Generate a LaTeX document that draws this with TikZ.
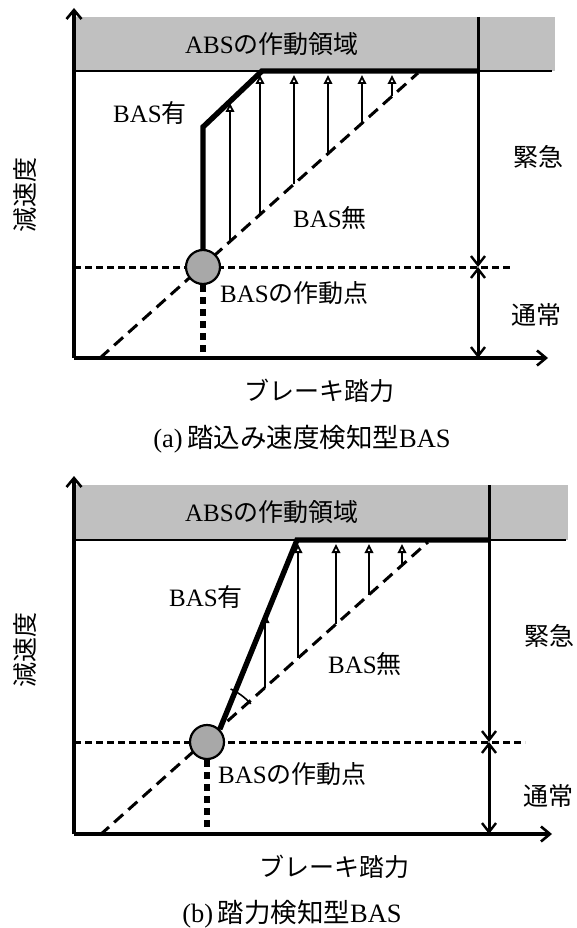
\documentclass[tikz,border=0pt]{standalone}
\usepackage{fontspec}
\setmainfont{Liberation Serif}
\newfontfamily\jpfont{Noto Sans CJK JP}
\newcommand{\J}[1]{{\jpfont #1}}
\usetikzlibrary{arrows.meta,calc}
\definecolor{bandgray}{RGB}{192,192,192}
\definecolor{dotgray}{RGB}{168,168,168}
\begin{document}
\begin{tikzpicture}[x=1pt,y=-1pt,
  txt/.style={inner sep=0pt, font=\fontsize{25}{28}\selectfont},
  captxt/.style={inner sep=0pt, font=\fontsize{26.5}{30}\selectfont},
  axis/.style={line width=3.3pt, -{Straight Barb[length=9pt,width=15pt,line width=2.6pt]}},
  vline/.style={line width=3pt, -{Straight Barb[length=9pt,width=14pt,line width=2.4pt]}},
  dvline/.style={line width=3pt, {Straight Barb[length=9pt,width=14pt,line width=2.4pt]}-{Straight Barb[length=9pt,width=14pt,line width=2.4pt]}},
  hdash/.style={line width=3pt, dash pattern=on 7pt off 4pt},
  ddash/.style={line width=3pt, dash pattern=on 12pt off 7pt},
  boldpath/.style={line width=5.4pt, line join=miter},
  uparrow/.style={line width=2.9pt, -{Triangle[open,length=9pt,width=8.5pt,line width=1.8pt]}},
  dotline/.style={line width=6.5pt, dash pattern=on 7pt off 5pt},
  point/.style={circle, draw, line width=2.2pt, fill=dotgray, minimum size=34pt, inner sep=0pt},
]
\useasboundingbox (0,0) rectangle (577,928);

%%%%%%%%%%%%%%%% Panel (a)
\fill[bandgray] (74,17) rectangle (555,71);
\coordinate (aBL) at (74,71);
\coordinate (aBR) at (552,71);
\draw[line width=1.8pt] (aBL) -- (aBR);
\node[txt] (aABS) at (272,44) {ABS\J{の作動領域}};

\coordinate (aO) at (74,358);
\coordinate (aYT) at (74,8);
\coordinate (aXR) at (548,358);
\draw[axis] (aO) -- (aYT);
\draw[axis] (aO) -- (aXR);

\coordinate (aVT) at (478,17);
\coordinate (aVM) at (478,267);
\coordinate (aVB) at (478,358);
\draw[vline] (aVT) -- (aVM);
\draw[dvline] (aVM) -- (aVB);

\coordinate (aHL) at (74,267);
\coordinate (aHR) at (512,267);
\draw[hdash] (aHL) -- (aHR);

\coordinate (aD0) at (100,358);
\coordinate (aD1) at (418,73);
\draw[ddash] (aD0) -- (aD1);

\foreach \x/\yb/\yt in {230/241.5/103, 260/214.6/75, 294/184.1/75, 328/153.7/75, 362/123.2/75, 392/96.3/75}{
  \draw[uparrow] (\x,\yb) -- (\x,\yt);
}

\node[point] (aP) at (203,267) {};
\coordinate (aK1) at (203,127);
\coordinate (aK2) at (262,71);
\coordinate (aK3) at (478,71);
\draw[boldpath] (aP.north) -- (aK1) -- (aK2) -- (aK3);
\coordinate (aPB) at (203,358);
\draw[dotline] (aP.south) -- (aPB);

\node[txt] (aYes) at (150,113) {BAS\J{有}};
\node[txt] (aNo) at (330,218) {BAS\J{無}};
\node[txt, anchor=west] (aPt) at (220,293) {BAS\J{の作動点}};
\node[txt] (aX) at (319,391) {\J{ブレーキ踏力}};
\node[txt] (aY) at (25,195) [rotate=90] {\J{減速度}};
\node[txt] (aEm) at (538,157) {\J{緊急}};
\node[txt] (aNr) at (536,315) {\J{通常}};
\node[captxt] (aCap) at (302,439) {(a)\,\J{踏込み速度検知型}BAS};

%%%%%%%%%%%%%%%% Panel (b)
\fill[bandgray] (74,485) rectangle (568,540);
\coordinate (bBL) at (74,540);
\coordinate (bBR) at (566,540);
\draw[line width=1.8pt] (bBL) -- (bBR);
\node[txt] (bABS) at (272,512) {ABS\J{の作動領域}};

\coordinate (bO) at (74,834);
\coordinate (bYT) at (74,476);
\coordinate (bXR) at (552,834);
\draw[axis] (bO) -- (bYT);
\draw[axis] (bO) -- (bXR);

\coordinate (bVT) at (489,485);
\coordinate (bVM) at (489,742);
\coordinate (bVB) at (489,834);
\draw[vline] (bVT) -- (bVM);
\draw[dvline] (bVM) -- (bVB);

\coordinate (bHL) at (74,742);
\coordinate (bHR) at (525,742);
\draw[hdash] (bHL) -- (bHR);

\coordinate (bD0) at (100,835);
\coordinate (bD1) at (428,542);
\draw[ddash] (bD0) -- (bD1);

\foreach \x/\yb/\yt in {265/687.6/614, 298/658.1/544, 336/624.2/544, 369/594.7/544, 402/565.2/544}{
  \draw[uparrow] (\x,\yb) -- (\x,\yt);
}

\node[point] (bP) at (207,742) {};
\coordinate (bK1) at (297,540);
\coordinate (bK2) at (489,540);
\draw[boldpath] (bP.north east) -- (bK1) -- (bK2);
\coordinate (bPB) at (207,834);
\draw[dotline] (bP.south) -- (bPB);

\draw[line width=1.6pt] ($(bP.center)+(41:58pt)$) arc[start angle=41, end angle=66, radius=58pt];

\node[txt] (bYes) at (206,597) {BAS\J{有}};
\node[txt] (bNo) at (365,664) {BAS\J{無}};
\node[txt, anchor=west] (bPt) at (218,774) {BAS\J{の作動点}};
\node[txt] (bX) at (334,867) {\J{ブレーキ踏力}};
\node[txt] (bY) at (25,650) [rotate=90] {\J{減速度}};
\node[txt] (bEm) at (549,636) {\J{緊急}};
\node[txt] (bNr) at (548,796) {\J{通常}};
\node[captxt] (bCap) at (292,914) {(b)\,\J{踏力検知型}BAS};
\end{tikzpicture}
\end{document}
